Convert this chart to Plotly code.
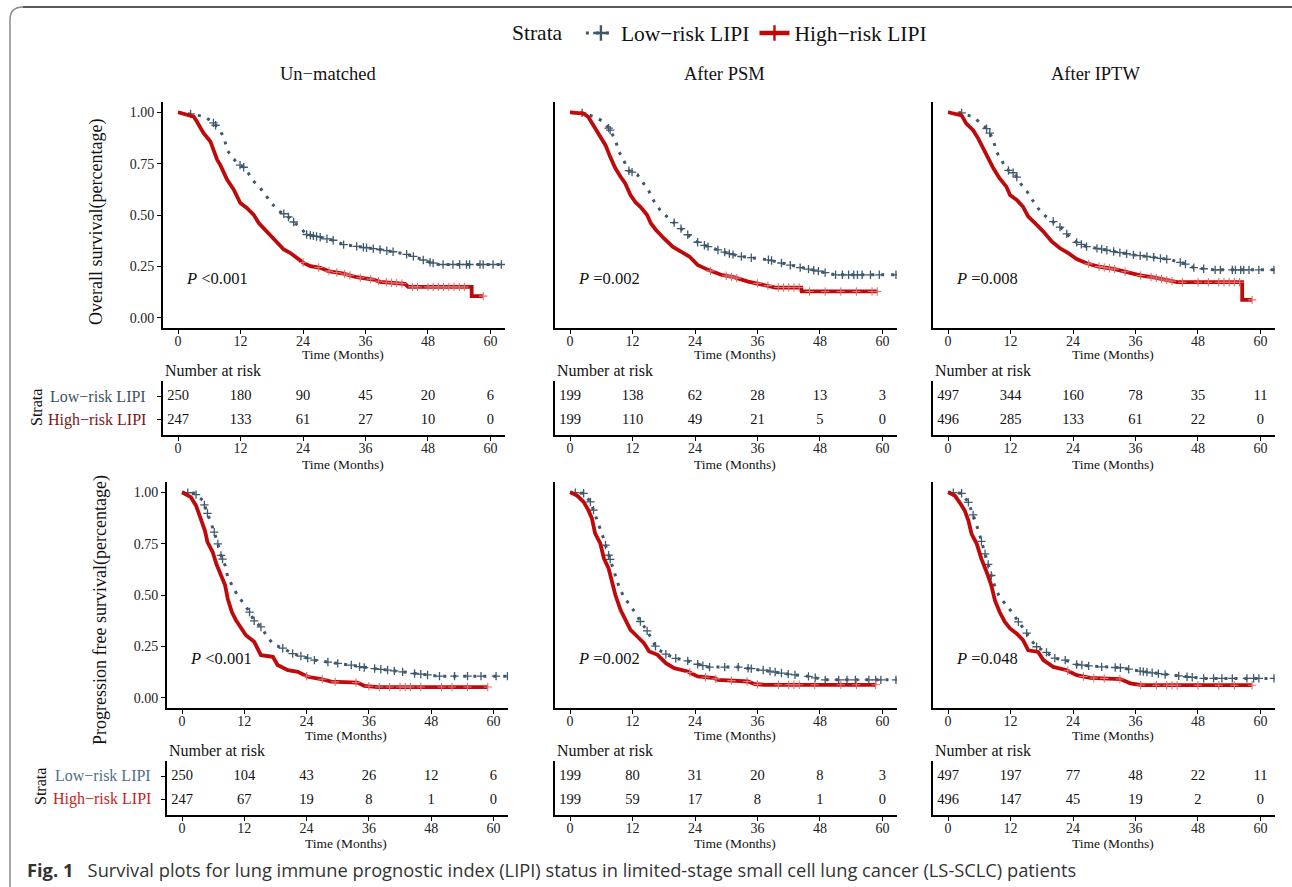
import numpy as np
import plotly.graph_objects as go

# ---------------- data ----------------
MONTH_TICKS = [0, 12, 24, 36, 48, 60]
SURV_TICKS = [0.0, 0.25, 0.50, 0.75, 1.00]
PANEL_TITLES = ["Un\u2212matched", "After PSM", "After IPTW"]
GROUPS = ["Low\u2212risk LIPI", "High\u2212risk LIPI"]

# Points (month, survival)
# Overall survival, un-matched
OS_UN_LOW_T = [0, 3, 5, 6.7, 8, 8.9, 9.4, 10.5, 11.8, 12.9, 13.4, 14.4, 15.8, 16.8, 18.1, 19.4, 20.9, 22.2, 23.5, 24.7, 27.3, 29.8, 31.8, 34.9, 38.8, 43.6, 45.8, 47.7, 50, 62.4]
OS_UN_LOW_S = [1.0, 0.99, 0.98, 0.951, 0.914, 0.871, 0.817, 0.777, 0.744, 0.728, 0.709, 0.667, 0.631, 0.599, 0.553, 0.518, 0.498, 0.466, 0.437, 0.405, 0.392, 0.377, 0.356, 0.345, 0.332, 0.311, 0.294, 0.275, 0.259, 0.259]
OS_UN_HIGH_T = [0, 3, 3.6, 4.9, 6.2, 6.8, 7.5, 8.1, 8.75, 9.4, 10.7, 11.3, 11.95, 13.2, 14.5, 15.5, 16.4, 17.7, 19, 20.3, 21.5, 22.8, 24.1, 25.4, 27.3, 28.9, 31.8, 34.3, 37.5, 38.8, 43.6, 44.2, 56.4, 56.4, 58.6]
OS_UN_HIGH_S = [1.0, 0.979, 0.955, 0.898, 0.858, 0.817, 0.769, 0.744, 0.704, 0.672, 0.623, 0.59, 0.558, 0.534, 0.502, 0.461, 0.437, 0.405, 0.364, 0.332, 0.316, 0.291, 0.267, 0.251, 0.243, 0.227, 0.215, 0.197, 0.186, 0.175, 0.165, 0.150, 0.150, 0.105, 0.105]
OS_UN_LOW_C = [2.4, 6.8, 7.2, 11.9, 12.6, 20.3, 21.2, 22.2, 24.7, 25.4, 26, 26.6, 27.3, 28.6, 29.8, 31.8, 34.3, 35.6, 36.2, 37.5, 38.8, 40.1, 41.3, 43.9, 45.2, 47.1, 48.4, 49, 50.9, 52.8, 54.1, 55.4, 56, 58, 58.6, 60.5, 62.1]
OS_UN_HIGH_C = [24, 27, 29, 30.5, 32, 33, 35, 37, 38.5, 40, 41, 42, 43, 45, 46, 48, 49, 50, 51, 52, 53, 54, 55, 58.6]

# Overall survival, after PSM
OS_PSM_LOW_T = [0, 2.3, 4.8, 6.5, 7.7, 8.7, 9.4, 10.3, 11.1, 12.9, 14.1, 15.2, 16.1, 17.3, 18.6, 20, 21.6, 23.2, 24.8, 26.5, 28.4, 31, 32.9, 38.1, 40, 44.2, 46.5, 51, 62.6]
OS_PSM_LOW_S = [1.0, 0.997, 0.977, 0.953, 0.913, 0.864, 0.807, 0.767, 0.718, 0.697, 0.654, 0.613, 0.568, 0.524, 0.492, 0.463, 0.427, 0.39, 0.362, 0.346, 0.33, 0.309, 0.298, 0.282, 0.27, 0.244, 0.233, 0.209, 0.209]
OS_PSM_HIGH_T = [0, 2.6, 3.5, 4.5, 5.8, 6.8, 7.7, 8.7, 9.7, 10.6, 11.6, 12.6, 13.5, 14.8, 15.5, 16.5, 18, 19.7, 21.3, 22.9, 24.5, 26.5, 29, 31.6, 34.2, 37.4, 39.4, 44.4, 44.5, 59]
OS_PSM_HIGH_S = [1.0, 0.994, 0.977, 0.937, 0.888, 0.84, 0.783, 0.727, 0.686, 0.654, 0.597, 0.561, 0.54, 0.5, 0.46, 0.427, 0.387, 0.346, 0.322, 0.298, 0.257, 0.233, 0.209, 0.196, 0.176, 0.16, 0.147, 0.147, 0.128, 0.128]
OS_PSM_LOW_C = [2.3, 7.4, 7.7, 11.3, 11.9, 20, 21.3, 22.6, 24.5, 25.8, 26.5, 28.4, 29.7, 30.6, 31.3, 32.9, 34.8, 38.1, 38.7, 40.6, 42.3, 44.2, 45.8, 46.8, 47.7, 49, 51, 52.3, 53.5, 54.5, 55.2, 56.1, 57.7, 59.4, 62.6]
OS_PSM_HIGH_C = [27, 30, 31, 32, 36, 38, 40, 41, 42, 43, 44, 46, 49, 52, 55, 58, 59]

# Overall survival, after IPTW
OS_IPTW_LOW_T = [0, 2.6, 4.8, 6.4, 7.7, 8.7, 9.3, 10.3, 11.1, 12.8, 13.9, 15.2, 16.2, 17.3, 18.6, 20.2, 21.8, 23.3, 24.7, 26.6, 29.2, 31.8, 35.6, 39.5, 42.7, 45.2, 47.2, 51, 62.6]
OS_IPTW_LOW_S = [1.0, 0.997, 0.977, 0.945, 0.913, 0.864, 0.807, 0.767, 0.723, 0.702, 0.654, 0.613, 0.573, 0.532, 0.497, 0.468, 0.435, 0.395, 0.367, 0.346, 0.335, 0.322, 0.306, 0.294, 0.282, 0.265, 0.244, 0.233, 0.233]
OS_IPTW_HIGH_T = [0, 2.6, 3.5, 4.8, 5.8, 6.7, 7.7, 8.7, 9.9, 11.2, 11.9, 13.2, 14.4, 15.4, 16.7, 18.3, 19.9, 21.5, 23.1, 24.7, 26.6, 28.9, 31.8, 34.3, 36.9, 39.5, 44, 56.5, 56.5, 58.4]
OS_IPTW_HIGH_S = [1.0, 0.985, 0.945, 0.913, 0.872, 0.824, 0.775, 0.727, 0.678, 0.638, 0.597, 0.573, 0.54, 0.492, 0.46, 0.419, 0.371, 0.338, 0.314, 0.286, 0.265, 0.249, 0.238, 0.222, 0.206, 0.196, 0.173, 0.173, 0.087, 0.087]
OS_IPTW_LOW_C = [2.6, 7.4, 8, 11.6, 12.5, 13.2, 20.2, 21.5, 22.8, 24.7, 25.6, 26.6, 28.6, 29.5, 30.5, 31.8, 33, 34.3, 35.6, 36.9, 38.2, 39.5, 40.8, 42, 44.6, 45.6, 47.2, 49.1, 51.3, 52.3, 54.6, 55.2, 56.2, 56.8, 57.8, 59.7, 62.6]
OS_IPTW_HIGH_C = [27, 29, 30, 31, 32, 34, 37, 39, 40, 41, 42, 43, 45, 48, 50, 52, 53, 54, 55, 56, 58.4]

# Progression free survival, un-matched
PFS_UN_LOW_T = [0, 2.4, 4, 4.8, 5.6, 6.2, 6.9, 7.5, 8.3, 8.8, 9.8, 10.7, 11.9, 13, 13.9, 15.4, 16.4, 17.7, 19.6, 21.3, 25.5, 30, 32.6, 35.1, 37.1, 42.5, 44.8, 49.3, 62.7]
PFS_UN_LOW_S = [1.0, 0.995, 0.96, 0.903, 0.854, 0.806, 0.749, 0.693, 0.644, 0.587, 0.539, 0.498, 0.458, 0.417, 0.374, 0.34, 0.296, 0.259, 0.239, 0.215, 0.183, 0.167, 0.159, 0.147, 0.142, 0.126, 0.118, 0.105, 0.105]
PFS_UN_HIGH_T = [0, 1.7, 2.7, 3.7, 4.4, 4.9, 5.9, 6.6, 7.5, 8.3, 8.8, 9.6, 10.4, 11.4, 12.3, 13.9, 15.2, 17.5, 18.4, 20.4, 22.3, 24.2, 26.8, 28.7, 33.8, 35.1, 37.7, 58.9]
PFS_UN_HIGH_S = [1.0, 0.976, 0.935, 0.871, 0.814, 0.757, 0.709, 0.652, 0.595, 0.547, 0.482, 0.417, 0.377, 0.337, 0.304, 0.272, 0.207, 0.199, 0.159, 0.134, 0.126, 0.102, 0.091, 0.078, 0.074, 0.058, 0.052, 0.052]
PFS_UN_LOW_C = [1.1, 2.7, 4.3, 4.9, 6.2, 6.9, 7.5, 7.8, 13, 13.9, 15.2, 19.4, 21.3, 22.9, 24.2, 25.5, 28.1, 30, 32.6, 34.2, 35.1, 37.1, 38.3, 39.6, 40.9, 42.5, 44.8, 46, 47.3, 49.6, 52.5, 55, 57.6, 60.5, 62.7]
PFS_UN_HIGH_C = [24, 27, 29.5, 33.5, 36, 38, 40, 42, 43, 44, 46, 50, 52, 55, 58.9]

# Progression free survival, after PSM
PFS_PSM_LOW_T = [0, 2.6, 3.9, 4.5, 5.5, 6.1, 6.8, 7.4, 8.1, 8.7, 9.4, 10.3, 11.3, 12.6, 13.5, 14.7, 15.7, 16.6, 18.2, 20.1, 22.4, 24.5, 26.5, 32.3, 36.8, 39.4, 41.9, 45.8, 49, 62.7]
PFS_PSM_LOW_S = [1.0, 0.995, 0.953, 0.913, 0.848, 0.8, 0.743, 0.694, 0.646, 0.589, 0.54, 0.492, 0.456, 0.411, 0.371, 0.33, 0.285, 0.241, 0.214, 0.193, 0.181, 0.163, 0.149, 0.149, 0.136, 0.125, 0.115, 0.104, 0.087, 0.087]
PFS_PSM_HIGH_T = [0, 1.3, 2.6, 3.5, 4.2, 4.8, 5.8, 6.5, 7.4, 8.1, 8.7, 9.7, 10.6, 11.6, 12.9, 14.2, 15.2, 16.8, 18.4, 20, 22.6, 24.5, 27.7, 28.4, 34.2, 35.5, 37.4, 58.7]
PFS_PSM_HIGH_S = [1.0, 0.985, 0.953, 0.913, 0.872, 0.8, 0.751, 0.678, 0.629, 0.565, 0.5, 0.427, 0.379, 0.33, 0.298, 0.265, 0.225, 0.209, 0.168, 0.144, 0.128, 0.104, 0.095, 0.087, 0.079, 0.066, 0.063, 0.063]
PFS_PSM_LOW_C = [1, 2.6, 3.9, 4.5, 6.8, 7.4, 7.7, 13.5, 14.8, 16.4, 18.4, 20.3, 22.6, 24.5, 25.5, 26.8, 29.7, 32.3, 34.2, 34.8, 37.1, 38.4, 39.4, 40.6, 41.9, 43.2, 45.8, 47.1, 49, 51.6, 53.2, 54.8, 57.4, 58.7, 59.7, 62.6]
PFS_PSM_HIGH_C = [23, 26, 28, 31, 34, 36, 40, 42, 43, 44, 47, 52, 55, 58.7]

# Progression free survival, after IPTW
PFS_IPTW_LOW_T = [0, 2.6, 3.9, 4.5, 5.3, 6, 6.7, 7.4, 8.3, 9, 9.9, 11.2, 12.5, 13.5, 14.8, 15.7, 17, 18.8, 20.2, 22.5, 24.7, 27, 29.5, 33.1, 36.9, 41.7, 45.9, 49.1, 62.6]
PFS_IPTW_LOW_S = [1.0, 0.995, 0.951, 0.911, 0.854, 0.798, 0.733, 0.676, 0.595, 0.539, 0.49, 0.45, 0.409, 0.369, 0.328, 0.288, 0.248, 0.223, 0.194, 0.183, 0.162, 0.155, 0.15, 0.146, 0.129, 0.113, 0.102, 0.094, 0.094]
PFS_IPTW_HIGH_T = [0, 1.3, 2.2, 3.2, 3.9, 4.5, 5.5, 6.4, 7.4, 8.3, 9, 9.9, 10.9, 11.9, 13.2, 14.4, 15.4, 17.3, 18.3, 20.2, 22.8, 24.7, 27.3, 33.1, 35, 37.2, 58.4]
PFS_IPTW_HIGH_S = [1.0, 0.984, 0.951, 0.911, 0.862, 0.798, 0.749, 0.676, 0.612, 0.547, 0.474, 0.417, 0.369, 0.337, 0.312, 0.28, 0.231, 0.223, 0.183, 0.15, 0.134, 0.11, 0.097, 0.091, 0.07, 0.061, 0.061]
PFS_IPTW_LOW_C = [1, 2.6, 3.9, 4.8, 6.4, 7.1, 7.7, 8.3, 13.5, 15.1, 17, 18.9, 20.5, 22.5, 24.7, 25.7, 27, 29.5, 32.1, 33.1, 34.7, 36.9, 37.5, 38.2, 39.2, 40.4, 41.7, 44.3, 45.9, 46.9, 49.1, 51, 52.6, 54.6, 57.4, 58.7, 59.7, 62.6]
PFS_IPTW_HIGH_C = [23, 26, 28, 30, 33, 37, 40, 42, 43, 44, 48, 52, 55, 58.4]

# Numbers at risk at months 0, 12, 24, 36, 48, 60
OS_UN_RISK_LOW = [250, 180, 90, 45, 20, 6]
OS_UN_RISK_HIGH = [247, 133, 61, 27, 10, 0]
OS_PSM_RISK_LOW = [199, 138, 62, 28, 13, 3]
OS_PSM_RISK_HIGH = [199, 110, 49, 21, 5, 0]
OS_IPTW_RISK_LOW = [497, 344, 160, 78, 35, 11]
OS_IPTW_RISK_HIGH = [496, 285, 133, 61, 22, 0]
PFS_UN_RISK_LOW = [250, 104, 43, 26, 12, 6]
PFS_UN_RISK_HIGH = [247, 67, 19, 8, 1, 0]
PFS_PSM_RISK_LOW = [199, 80, 31, 20, 8, 3]
PFS_PSM_RISK_HIGH = [199, 59, 17, 8, 1, 0]
PFS_IPTW_RISK_LOW = [497, 197, 77, 48, 22, 11]
PFS_IPTW_RISK_HIGH = [496, 147, 45, 19, 2, 0]

OS_P = ["&lt;0.001", "=0.002", "=0.008"]
PFS_P = ["&lt;0.001", "=0.002", "=0.048"]

PANELS = [
    (OS_UN_LOW_T, OS_UN_LOW_S, OS_UN_LOW_C, OS_UN_HIGH_T, OS_UN_HIGH_S, OS_UN_HIGH_C, OS_UN_RISK_LOW, OS_UN_RISK_HIGH, OS_P[0]),
    (OS_PSM_LOW_T, OS_PSM_LOW_S, OS_PSM_LOW_C, OS_PSM_HIGH_T, OS_PSM_HIGH_S, OS_PSM_HIGH_C, OS_PSM_RISK_LOW, OS_PSM_RISK_HIGH, OS_P[1]),
    (OS_IPTW_LOW_T, OS_IPTW_LOW_S, OS_IPTW_LOW_C, OS_IPTW_HIGH_T, OS_IPTW_HIGH_S, OS_IPTW_HIGH_C, OS_IPTW_RISK_LOW, OS_IPTW_RISK_HIGH, OS_P[2]),
    (PFS_UN_LOW_T, PFS_UN_LOW_S, PFS_UN_LOW_C, PFS_UN_HIGH_T, PFS_UN_HIGH_S, PFS_UN_HIGH_C, PFS_UN_RISK_LOW, PFS_UN_RISK_HIGH, PFS_P[0]),
    (PFS_PSM_LOW_T, PFS_PSM_LOW_S, PFS_PSM_LOW_C, PFS_PSM_HIGH_T, PFS_PSM_HIGH_S, PFS_PSM_HIGH_C, PFS_PSM_RISK_LOW, PFS_PSM_RISK_HIGH, PFS_P[1]),
    (PFS_IPTW_LOW_T, PFS_IPTW_LOW_S, PFS_IPTW_LOW_C, PFS_IPTW_HIGH_T, PFS_IPTW_HIGH_S, PFS_IPTW_HIGH_C, PFS_IPTW_RISK_LOW, PFS_IPTW_RISK_HIGH, PFS_P[2]),
]

# ---------------- styling / layout ----------------
W, H = 1292, 887
def px(x):
    return x / W
def py(y):
    return 1 - y / H

SERIF = "Liberation Serif"
LOW_COL = "#3F586C"
HIGH_COL = "#BE0A0A"
HIGH_CENS = "#E27070"
LOW_DASH = "3px,7px"
XR = [-2.9, 62.8]
YR = [-0.05, 1.05]
ROW_LOW, ROW_HIGH = 0.72, 0.28

COL_X = {(0, 0): (163, 505), (0, 1): (555, 897), (0, 2): (933, 1275),
         (1, 0): (167, 508), (1, 1): (555, 897), (1, 2): (933, 1275)}
PLOT_Y = {0: (102, 328), 1: (482, 708)}
TAB_Y = {0: (381, 435), 1: (761, 815)}
TIME_Y_PLOT = {0: 355, 1: 735}
TIME_Y_TAB = {0: 464, 1: 843}
NAR_Y = {0: 370, 1: 750}
ROW_LABEL_Y = {0: (396, 420), 1: (775, 799)}
ROW_LABEL_X = {0: 148, 1: 153}
ROW_LABEL_COL = {0: ("#3E5163", "#7E1414"), 1: ("#4F6F88", "#C41E1E")}
STRATA_POS = {0: (36, 408), 1: (40, 787)}

def sfx(k):
    return "" if k == 1 else str(k)

def curve_at(T, S, c):
    return np.interp(np.asarray(c, float), np.asarray(T, float), np.asarray(S, float))

fig = go.Figure()
axes = {}
annotations = []

axis_common = dict(showline=True, linecolor="black", linewidth=1.8, showgrid=False,
                   zeroline=False, ticks="outside", ticklen=4, tickwidth=1.4,
                   tickcolor="black", tickfont=dict(family=SERIF, size=14, color="#222"))

for i, (lt, ls, lc, ht, hs, hc, rl, rh, ptxt) in enumerate(PANELS):
    r, c = divmod(i, 3)
    kp, kt = 2 * i + 1, 2 * i + 2
    x0, x1 = COL_X[(r, c)]
    yp0, yp1 = PLOT_Y[r]
    yt0, yt1 = TAB_Y[r]

    axes["xaxis" + sfx(kp)] = dict(axis_common, domain=[px(x0), px(x1)], range=XR,
                                   anchor="y" + sfx(kp), tickvals=MONTH_TICKS,
                                   ticklabelstandoff=-5)
    yplot = dict(axis_common, domain=[py(yp1), py(yp0)], range=YR, anchor="x" + sfx(kp),
                 tickvals=SURV_TICKS, tickformat=".2f")
    if c != 0:
        yplot.update(ticks="", showticklabels=False)
    axes["yaxis" + sfx(kp)] = yplot
    axes["xaxis" + sfx(kt)] = dict(axis_common, domain=[px(x0), px(x1)], range=XR,
                                   anchor="y" + sfx(kt), tickvals=MONTH_TICKS,
                                   ticklabelstandoff=-5)
    ytab = dict(axis_common, domain=[py(yt1), py(yt0)], range=[0, 1], anchor="x" + sfx(kt),
                tickvals=[ROW_HIGH, ROW_LOW], showticklabels=False)
    if c != 0:
        ytab.update(ticks="")
    axes["yaxis" + sfx(kt)] = ytab

    xa, ya = "x" + sfx(kp), "y" + sfx(kp)
    # Low-risk curve + censor marks
    fig.add_trace(go.Scatter(x=lt, y=ls, mode="lines", xaxis=xa, yaxis=ya, showlegend=False,
                             line=dict(color=LOW_COL, width=3, dash=LOW_DASH),
                             hoverinfo="skip"))
    fig.add_trace(go.Scatter(x=lc, y=curve_at(lt, ls, lc), mode="markers", xaxis=xa, yaxis=ya,
                             showlegend=False, hoverinfo="skip",
                             marker=dict(symbol="cross-thin", size=6,
                                         line=dict(width=1.3, color=LOW_COL))))
    # High-risk curve + censor marks
    fig.add_trace(go.Scatter(x=ht, y=hs, mode="lines", xaxis=xa, yaxis=ya, showlegend=False,
                             line=dict(color=HIGH_COL, width=3.8), hoverinfo="skip"))
    fig.add_trace(go.Scatter(x=hc, y=curve_at(ht, hs, hc), mode="markers", xaxis=xa, yaxis=ya,
                             showlegend=False, hoverinfo="skip",
                             marker=dict(symbol="cross-thin", size=6,
                                         line=dict(width=1.1, color=HIGH_CENS))))
    # Risk table numbers
    xt, yt = "x" + sfx(kt), "y" + sfx(kt)
    fig.add_trace(go.Scatter(x=MONTH_TICKS, y=[ROW_LOW] * 6, text=[str(v) for v in rl],
                             mode="text", xaxis=xt, yaxis=yt, showlegend=False, hoverinfo="skip",
                             textfont=dict(family=SERIF, size=14.5, color="#111")))
    fig.add_trace(go.Scatter(x=MONTH_TICKS, y=[ROW_HIGH] * 6, text=[str(v) for v in rh],
                             mode="text", xaxis=xt, yaxis=yt, showlegend=False, hoverinfo="skip",
                             textfont=dict(family=SERIF, size=14.5, color="#111")))

    # annotations
    annotations.append(dict(xref=xa, yref=ya, x=1.2, y=0.19, xanchor="left", yanchor="middle",
                            text="<i>P</i> " + ptxt, showarrow=False,
                            font=dict(family=SERIF, size=16.5, color="#111")))
    annotations.append(dict(xref=xa + " domain", yref="paper", x=0.526, y=py(TIME_Y_PLOT[r]),
                            xanchor="center", yanchor="middle", text="Time (Months)",
                            showarrow=False, font=dict(family=SERIF, size=13.5, color="#111")))
    annotations.append(dict(xref=xt + " domain", yref="paper", x=0.526, y=py(TIME_Y_TAB[r]),
                            xanchor="center", yanchor="middle", text="Time (Months)",
                            showarrow=False, font=dict(family=SERIF, size=13.5, color="#111")))
    annotations.append(dict(xref="paper", yref="paper", x=px(x0), y=py(NAR_Y[r]),
                            xanchor="left", yanchor="middle", text="Number at risk",
                            showarrow=False, font=dict(family=SERIF, size=16, color="#111")))
    if c == 0:
        lowc, highc = ROW_LABEL_COL[r]
        ylo, yhi = ROW_LABEL_Y[r]
        annotations.append(dict(xref="paper", yref="paper", x=px(ROW_LABEL_X[r]), y=py(ylo),
                                xanchor="right", yanchor="middle", text=GROUPS[0], showarrow=False,
                                font=dict(family=SERIF, size=16, color=lowc)))
        annotations.append(dict(xref="paper", yref="paper", x=px(ROW_LABEL_X[r]), y=py(yhi),
                                xanchor="right", yanchor="middle", text=GROUPS[1], showarrow=False,
                                font=dict(family=SERIF, size=16, color=highc)))
        sx, sy = STRATA_POS[r]
        annotations.append(dict(xref="paper", yref="paper", x=px(sx), y=py(sy),
                                xanchor="center", yanchor="middle", text="Strata", textangle=-90,
                                showarrow=False, font=dict(family=SERIF, size=16, color="#111")))

for xc, t in zip([328, 724, 1095], PANEL_TITLES):
    annotations.append(dict(xref="paper", yref="paper", x=px(xc), y=py(74), xanchor="center",
                            yanchor="middle", text=t, showarrow=False,
                            font=dict(family=SERIF, size=18.5, color="#111")))

annotations.append(dict(xref="paper", yref="paper", x=px(96), y=py(222), xanchor="center",
                        yanchor="middle", text="Overall survival(percentage)", textangle=-90,
                        showarrow=False, font=dict(family=SERIF, size=18, color="#111")))
annotations.append(dict(xref="paper", yref="paper", x=px(100), y=py(610), xanchor="center",
                        yanchor="middle", text="Progression free survival(percentage)",
                        textangle=-90, showarrow=False,
                        font=dict(family=SERIF, size=18, color="#111")))
annotations.append(dict(xref="paper", yref="paper", x=px(25), y=py(869), xanchor="left",
                        yanchor="middle",
                        text="<b>Fig. 1</b>\u00a0\u00a0 Survival plots for lung immune prognostic index (LIPI) status in limited-stage small cell lung cancer (LS-SCLC) patients",
                        showarrow=False, font=dict(family="Open Sans", size=18.3, color="#333")))

# legend entries
fig.add_trace(go.Scatter(x=[None], y=[None], mode="lines+markers", name=GROUPS[0],
                         line=dict(color=LOW_COL, width=3, dash=LOW_DASH),
                         marker=dict(symbol="cross-thin", size=11, line=dict(width=2.4, color=LOW_COL))))
fig.add_trace(go.Scatter(x=[None], y=[None], mode="lines+markers", name=GROUPS[1],
                         line=dict(color=HIGH_COL, width=4.5),
                         marker=dict(symbol="cross-thin", size=11, line=dict(width=2.4, color=HIGH_COL))))

shapes = [
    dict(type="path", xref="paper", yref="paper",
         path=f"M {px(10)},{py(887)} L {px(10)},{py(20)} Q {px(10)},{py(7)} {px(23)},{py(7)}",
         line=dict(color="#8A8A8A", width=1.5)),
    dict(type="line", xref="paper", yref="paper", x0=px(23), y0=py(7), x1=1, y1=py(7),
         line=dict(color="#222", width=1.5)),
]

fig.update_layout(
    width=W, height=H, margin=dict(l=0, r=0, t=0, b=0),
    paper_bgcolor="white", plot_bgcolor="white",
    annotations=annotations, shapes=shapes,
    legend=dict(orientation="h", x=px(721), xanchor="center", y=py(33), yanchor="middle",
                title=dict(text="Strata  ", side="left", font=dict(family=SERIF, size=21.5, color="#111")),
                font=dict(family=SERIF, size=21.5, color="#111"), itemwidth=30,
                bgcolor="rgba(0,0,0,0)"),
    **axes,
)

fig.write_html("out.html", config={"displayModeBar": False},
               post_script="document.body.style.margin='0';document.body.style.overflow='hidden';")
